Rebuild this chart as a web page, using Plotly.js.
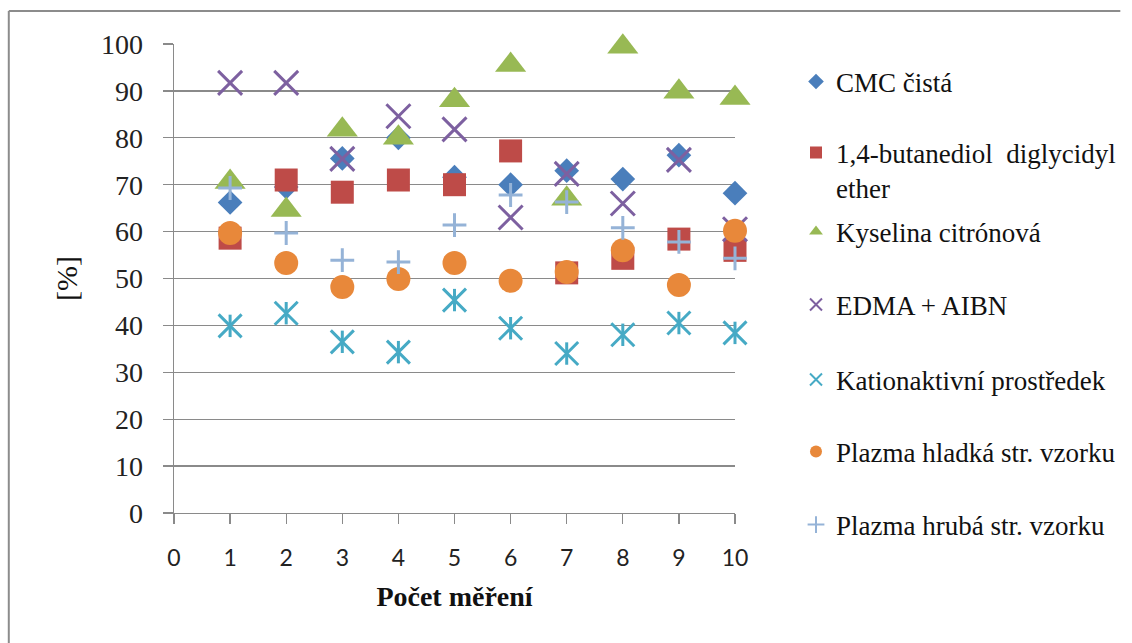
<!DOCTYPE html>
<html>
<head>
<meta charset="utf-8">
<script src="https://cdn.plot.ly/plotly-3.0.1.min.js"></script>
<style>html,body{margin:0;padding:0;background:#fff;}#chart{width:1132px;height:643px;}</style>
</head>
<body>
<div id="chart"></div>
<script>
const measurements = [1, 2, 3, 4, 5, 6, 7, 8, 9, 10];
const xTickLabels = ['0', '1', '2', '3', '4', '5', '6', '7', '8', '9', '10'];
const xTickValues = [0, 1, 2, 3, 4, 5, 6, 7, 8, 9, 10];

const seriesNames = [
  'CMC čistá',
  '1,4-butanediol\u00a0 diglycidyl<br>ether',
  'Kyselina citrónová',
  'EDMA + AIBN',
  'Kationaktivní prostředek',
  'Plazma hladká str. vzorku',
  'Plazma hrubá str. vzorku'
];

const cmcCista = [66.2, 69.5, 75.6, 80.0, 71.6, 70.0, 73.0, 71.2, 76.3, 68.2];
const butanediol = [58.6, 71.0, 68.4, 71.0, 70.0, 77.2, 51.2, 54.3, 58.4, 56.0];
const kyselina = [70.6, 64.6, 81.7, 80.0, 88.0, 95.5, 67.0, 99.4, 89.8, 88.5];
const edmaAibn = [91.7, 91.7, 75.5, 84.6, 81.8, 63.0, 72.3, 66.0, 75.3, 60.5];
const kationaktivni = [39.9, 42.6, 36.5, 34.3, 45.4, 39.4, 34.0, 38.0, 40.5, 38.4];
const plazmaHladka = [59.7, 53.3, 48.2, 49.9, 53.3, 49.5, 51.4, 56.0, 48.6, 60.2];
const plazmaHruba = [69.3, 59.7, 53.9, 53.5, 61.4, 67.8, 66.3, 60.8, 57.8, 54.3];

const colors = ['#4A7EBB', '#BE4B48', '#98B954', '#7D60A0', '#46AAC5', '#E8883A', '#95B3D7'];

function tr(y, idx, marker, legend, extra) {
  return Object.assign({
    type: 'scatter', mode: 'markers', x: measurements, y: y,
    name: seriesNames[idx], legend: legend, cliponaxis: false,
    marker: marker, hoverinfo: 'x+y'
  }, extra || {});
}

const data = [
  tr(cmcCista, 0, {symbol: 'diamond', size: 19, color: colors[0]}, 'legend'),
  tr(butanediol, 1, {symbol: 'square', size: 23, color: colors[1]}, 'legend2'),
  tr(kyselina, 2, {symbol: 'triangle-up', size: 27, color: colors[2]}, 'legend3'),
  tr(edmaAibn, 3, {symbol: 'x-thin', size: 24, color: colors[3], line: {color: colors[3], width: 3}}, 'legend4'),
  tr(kationaktivni, 4, {symbol: 'x-thin', size: 23, color: colors[4], line: {color: colors[4], width: 3}}, 'legend5', {legendgroup: 'kat'}),
  tr(kationaktivni, 4, {symbol: 'line-ns', size: 16, color: colors[4], line: {color: colors[4], width: 3}}, 'legend5', {legendgroup: 'kat', showlegend: false}),
  tr(plazmaHladka, 5, {symbol: 'circle', size: 24, color: colors[5]}, 'legend6'),
  tr(plazmaHruba, 6, {symbol: 'cross-thin', size: 17, color: colors[6], line: {color: colors[6], width: 3}}, 'legend7')
];

const L = 174, R = 736, T = 44, B = 513, W = 1132, H = 643;
const px2x = p => (p - L) / (R - L);
const py2y = p => (B - p) / (B - T);

const SERIF = 'Liberation Serif, Times New Roman, serif';
const legendFont = {family: SERIF, size: 27, color: '#111'};
function leg(cy) {
  return {
    x: px2x(796), xanchor: 'left', y: py2y(cy), yanchor: 'middle',
    font: legendFont, bgcolor: 'rgba(0,0,0,0)', borderwidth: 0,
    itemsizing: 'constant', valign: 'top', itemclick: false, itemdoubleclick: false
  };
}

const gridColor = '#8A8A8A';

const layout = {
  width: W, height: H,
  margin: {l: L, r: W - R, t: T, b: H - B, pad: 0},
  paper_bgcolor: '#fff', plot_bgcolor: '#fff',
  showlegend: true,
  font: {family: SERIF, color: '#111'},
  xaxis: {
    range: [0, 10], tickvals: xTickValues, ticktext: xTickLabels,
    ticks: 'outside', ticklen: 10, tickwidth: 1.3, tickcolor: gridColor,
    showline: true, linecolor: gridColor, linewidth: 1.3,
    showgrid: false, zeroline: false, fixedrange: true,
    ticklabelstandoff: 14,
    tickfont: {family: 'Lato, Liberation Sans, sans-serif', size: 23, color: '#222'},
    title: {text: '<b>Počet měření</b>', standoff: 16,
      font: {family: SERIF, size: 28, color: '#111'}}
  },
  yaxis: {
    range: [0, 100], dtick: 10, tick0: 0,
    ticks: 'outside', ticklen: 10, tickwidth: 1.3, tickcolor: gridColor,
    showline: true, linecolor: gridColor, linewidth: 1.3,
    showgrid: true, gridcolor: gridColor, gridwidth: 1.3,
    zeroline: false, fixedrange: true,
    ticklabelstandoff: 14,
    tickfont: {family: SERIF, size: 28, color: '#222'},
    title: {text: '[%]', standoff: 14,
      font: {family: SERIF, size: 30, color: '#111'}}
  },
  legend: leg(82),
  legend2: leg(170.5),
  legend3: leg(232),
  legend4: leg(305),
  legend5: leg(380),
  legend6: leg(452),
  legend7: leg(525),
  shapes: [
    {type: 'line', xref: 'paper', yref: 'paper', x0: px2x(8.5), x1: px2x(1122), y0: py2y(11), y1: py2y(11), line: {color: '#8C8C8C', width: 2}},
    {type: 'line', xref: 'paper', yref: 'paper', x0: px2x(8.5), x1: px2x(8.5), y0: py2y(11), y1: py2y(643), line: {color: '#8C8C8C', width: 2}}
  ]
};

Plotly.newPlot('chart', data, layout, {staticPlot: true, displayModeBar: false});
</script>
</body>
</html>
